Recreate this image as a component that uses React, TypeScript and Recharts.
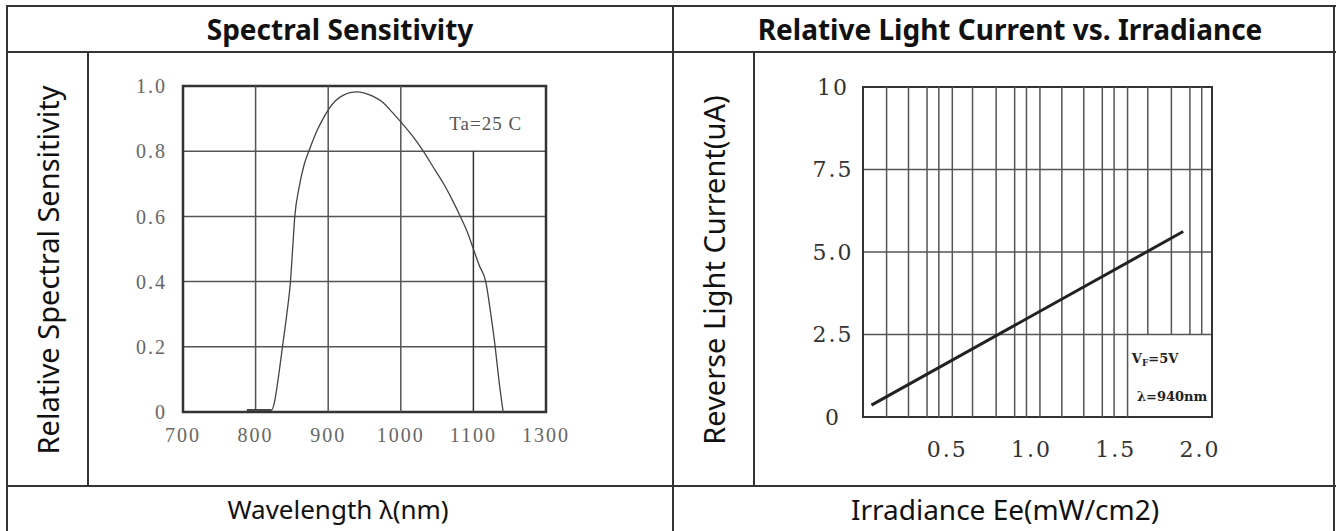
import React from 'react';
import {
  LineChart,
  Line,
  XAxis,
  YAxis,
  CartesianGrid,
  ReferenceLine,
  ReferenceArea,
  ReferenceDot,
} from 'recharts';

// ---- Spectral Sensitivity ----
const wavelength = [
  788, 800, 822, 826, 831, 837, 843, 848, 851, 854, 860, 867, 875, 885, 893, 901, 910, 921, 930, 940,
  950, 962, 975, 988, 1000, 1015, 1031, 1045, 1059, 1071, 1082, 1092, 1100, 1108, 1117, 1124, 1130,
  1135, 1141,
];
const sensitivity = [
  0.005, 0.005, 0.005, 0.03, 0.1, 0.2, 0.3, 0.4, 0.5, 0.6, 0.69, 0.76, 0.81, 0.865, 0.9, 0.93, 0.955,
  0.972, 0.98, 0.982, 0.978, 0.968, 0.95, 0.92, 0.89, 0.85, 0.8, 0.75, 0.7, 0.65, 0.6, 0.55, 0.5, 0.45,
  0.4, 0.3, 0.2, 0.1, 0,
];
const wlTicks = [700, 800, 900, 1000, 1100, 1200];
const wlTickLabels = ['700', '800', '900', '1000', '1100', '1300'];
const sensTicks = [0, 0.2, 0.4, 0.6, 0.8, 1.0];
const sensTickLabels = ['0', '0.2', '0.4', '0.6', '0.8', '1.0'];
const wlGridFull = [800, 900, 1000];
const wlGridShort = [1100]; // stops at 0.8 under the Ta label

// ---- Light current vs irradiance ----
const irradiance = [0.05, 1.9];
const lightCurrent = [0.36, 5.62];
const irrTicks = [0.5, 1.0, 1.5, 2.0];
const irrTickLabels = ['0.5', '1.0', '1.5', '2.0'];
const curTicks = [0, 2.5, 5, 7.5, 10];
const curTickLabels = ['0', '2.5', '5.0', '7.5', '10'];
const irrGridFull = [0.14, 0.27, 0.38, 0.45, 0.53, 0.65, 0.79, 0.9, 0.97, 1.05, 1.18, 1.31, 1.42, 1.49, 1.57];
const irrGridShort = [1.69, 1.83, 1.94, 2.01]; // stop at 2.5 above the legend box

// flat toe of the curve is drawn heavier in the original
const spectralData = wavelength.map((w, i) => ({
  w,
  s: sensitivity[i],
  toe: w <= 822 ? sensitivity[i] : undefined,
}));
const irrData = irradiance.map((e, i) => ({ e, c: lightCurrent[i] }));

const LINE = '#333';
const GRID = '#555';
const sans = '"Noto Sans", "Open Sans", sans-serif';
const serif = '"Liberation Serif", "DejaVu Serif", serif';
const serif2 = '"DejaVu Serif", serif';

const hLine = (top: number, left: number, width: number) => (
  <div style={{ position: 'absolute', top, left, width, height: 2, background: LINE }} />
);
const vLine = (left: number, top: number, height: number) => (
  <div style={{ position: 'absolute', top, left, width: 2, height, background: LINE }} />
);

const cellText = (text: string, cx: number, cy: number, size: number, bold = false, rotate = false) => (
  <div
    style={{
      position: 'absolute',
      left: cx,
      top: cy,
      transform: `translate(-50%, -50%)${rotate ? ' rotate(-90deg)' : ''}`,
      whiteSpace: 'nowrap',
      fontFamily: sans,
      fontSize: size,
      fontWeight: bold ? 700 : 400,
      color: '#111',
      lineHeight: 1,
    }}
  >
    {text}
  </div>
);

const CurTick = (props: any) => {
  const { x, y, payload, index } = props;
  return (
    <text
      x={x - 22}
      y={y}
      dy="0.35em"
      textAnchor="middle"
      fill="#333"
      fontFamily={serif2}
      fontSize={22}
      letterSpacing={2}
    >
      {curTickLabels[index] ?? payload.value}
    </text>
  );
};

const VfLabel = (props: any) => {
  const { viewBox } = props;
  return (
    <text x={viewBox.x} y={viewBox.y} dy="0.35em" textAnchor="middle" fill="#222" fontFamily={serif2} fontWeight={700} fontSize={13}>
      <tspan>V</tspan>
      <tspan fontSize={9} dy={3}>F</tspan>
      <tspan dy={-3}>=5V</tspan>
    </text>
  );
};

const SpectralChart = () => (
  <LineChart width={584} height={433} data={spectralData} margin={{ top: 33, right: 126, bottom: 44, left: 0 }}>
    <CartesianGrid vertical={false} stroke={GRID} strokeWidth={1.5} />
    {wlGridFull.map((v) => (
      <ReferenceLine key={v} x={v} stroke={GRID} strokeWidth={1.5} />
    ))}
    {wlGridShort.map((v) => (
      <ReferenceLine key={v} segment={[{ x: v, y: 0 }, { x: v, y: 0.8 }]} stroke={LINE} strokeWidth={1.5} />
    ))}
    <XAxis
      dataKey="w"
      type="number"
      domain={[700, 1200]}
      ticks={wlTicks}
      tickFormatter={(v, i) => wlTickLabels[i]}
      axisLine={false}
      tickLine={false}
      tickSize={0}
      tickMargin={16}
      height={30}
      interval={0}
      tick={{ fill: '#666', fontSize: 20, fontFamily: serif, letterSpacing: 2 }}
    />
    <YAxis
      type="number"
      domain={[0, 1]}
      ticks={sensTicks}
      tickFormatter={(v, i) => sensTickLabels[i]}
      axisLine={false}
      tickLine={false}
      tickSize={0}
      tickMargin={16}
      width={95}
      interval={0}
      tick={{ fill: '#666', fontSize: 20, fontFamily: serif, letterSpacing: 2 }}
    />
    <ReferenceArea x1={700} x2={1200} y1={0} y2={1} fill="none" stroke={LINE} strokeWidth={2.5} />
    <ReferenceDot
      x={1117}
      y={0.887}
      r={0}
      fill="none"
      stroke="none"
      label={{ value: 'Ta=25 C', position: 'center', fill: '#555', fontSize: 19, fontFamily: serif, letterSpacing: 1 }}
    />
    <Line dataKey="toe" type="linear" stroke="#333" strokeWidth={2.5} dot={false} isAnimationActive={false} />
    <Line dataKey="s" type="monotone" stroke="#444" strokeWidth={1.3} dot={false} isAnimationActive={false} />
  </LineChart>
);

const IrradianceChart = () => (
  <LineChart width={580} height={433} data={irrData} margin={{ top: 34, right: 122, bottom: 39, left: 0 }}>
    <CartesianGrid vertical={false} stroke={GRID} strokeWidth={1.5} />
    {irrGridFull.map((v) => (
      <ReferenceLine key={v} x={v} stroke={GRID} strokeWidth={1.5} />
    ))}
    {irrGridShort.map((v) => (
      <ReferenceLine key={v} segment={[{ x: v, y: 2.5 }, { x: v, y: 10 }]} stroke={GRID} strokeWidth={1.5} />
    ))}
    <XAxis
      dataKey="e"
      type="number"
      domain={[0, 2.071]}
      ticks={irrTicks}
      tickFormatter={(v, i) => irrTickLabels[i]}
      axisLine={false}
      tickLine={false}
      tickSize={0}
      tickMargin={24}
      height={30}
      interval={0}
      tick={{ fill: '#333', fontSize: 22, fontFamily: serif2, letterSpacing: 2 }}
    />
    <YAxis
      type="number"
      domain={[0, 10]}
      ticks={curTicks}
      axisLine={false}
      tickLine={false}
      width={109}
      interval={0}
      tick={<CurTick />}
    />
    <ReferenceArea x1={0} x2={2.071} y1={0} y2={10} fill="none" stroke={LINE} strokeWidth={2} />
    <ReferenceDot x={1.733} y={1.76} r={0} fill="none" stroke="none" label={<VfLabel />} />
    <ReferenceDot
      x={1.834}
      y={0.61}
      r={0}
      fill="none"
      stroke="none"
      label={{ value: 'λ=940nm', position: 'center', fill: '#222', fontSize: 13, fontWeight: 700, fontFamily: serif2 }}
    />
    <Line dataKey="c" type="linear" stroke="#222" strokeWidth={3} dot={false} isAnimationActive={false} />
  </LineChart>
);

export default function App() {
  return (
    <div style={{ position: 'absolute', left: 0, top: 0, width: 1336, height: 531, overflow: 'hidden', background: '#fff' }}>
      {hLine(5, 6, 1330)}
      {vLine(6, 5, 540)}
      {vLine(1333, 5, 540)}
      {hLine(51, 6, 1330)}
      {vLine(672, 5, 540)}
      {vLine(87, 52, 434)}
      {vLine(753, 52, 434)}
      {hLine(485, 6, 1330)}

      {cellText('Spectral Sensitivity', 340, 29, 28, true)}
      {cellText('Relative Light Current vs. Irradiance', 1010, 29, 28, true)}
      {cellText('Relative Spectral Sensitivity', 47, 270, 29, false, true)}
      {cellText('Reverse Light Current(uA)', 713, 270, 29, false, true)}
      {cellText('Wavelength λ(nm)', 338, 509, 26)}
      {cellText('Irradiance Ee(mW/cm2)', 1005, 509, 28)}

      <div style={{ position: 'absolute', left: 88, top: 53 }}>
        <SpectralChart />
      </div>
      <div style={{ position: 'absolute', left: 754, top: 53 }}>
        <IrradianceChart />
      </div>
    </div>
  );
}
